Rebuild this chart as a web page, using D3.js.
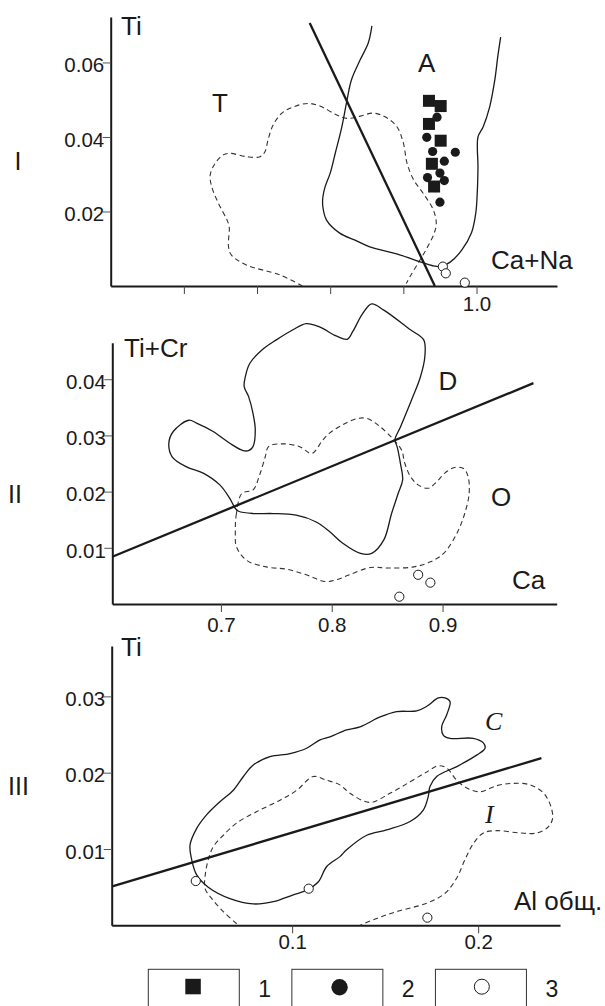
<!DOCTYPE html>
<html>
<head>
<meta charset="utf-8">
<script src="https://cdn.jsdelivr.net/npm/d3@7"></script>
<style>
  html, body { margin: 0; padding: 0; background: #fff; }
  svg { display: block; font-family: "Liberation Sans", Arial, sans-serif; }
</style>
</head>
<body>
<svg id="chart" width="605" height="1006"></svg>
<script>
// ---- panel I : Ti vs Ca+Na ----
const xTicks1 = [0.6, 0.7, 0.8, 0.9, 1.0];
const yTicks1 = [0.02, 0.04, 0.06];
const divider1 = [[0.772, 0.0706], [0.943, 0]];
const contourA = [
  [0.857, 0.0698], [0.852, 0.0652], [0.841, 0.0607], [0.829, 0.0553], [0.823, 0.0499],
  [0.816, 0.0428], [0.807, 0.0357], [0.800, 0.0303], [0.793, 0.0266], [0.790, 0.0239],
  [0.790, 0.0212], [0.795, 0.0177], [0.813, 0.0142], [0.834, 0.0123], [0.854, 0.0105],
  [0.891, 0.0086], [0.923, 0.0065], [0.939, 0.0055], [0.950, 0.0052], [0.964, 0.0064],
  [0.980, 0.0097], [0.993, 0.0142], [0.999, 0.0196], [1.001, 0.0250], [1.002, 0.0319],
  [1.002, 0.0400], [1.009, 0.0427], [1.018, 0.0481], [1.025, 0.0553], [1.029, 0.0615],
  [1.033, 0.0668]
];
const contourT = [
  [0.762, 0.0000], [0.731, 0.0030], [0.686, 0.0056], [0.665, 0.0083], [0.661, 0.0106],
  [0.662, 0.0159], [0.659, 0.0177], [0.647, 0.0223], [0.638, 0.0267], [0.636, 0.0298],
  [0.643, 0.0330], [0.654, 0.0352], [0.663, 0.0356], [0.686, 0.0347], [0.704, 0.0347],
  [0.711, 0.0361], [0.715, 0.0392], [0.722, 0.0432], [0.734, 0.0464], [0.750, 0.0481],
  [0.770, 0.0490], [0.786, 0.0483], [0.809, 0.0459], [0.823, 0.0450], [0.841, 0.0456],
  [0.859, 0.0464], [0.875, 0.0454], [0.891, 0.0428], [0.900, 0.0384], [0.905, 0.0330],
  [0.914, 0.0285], [0.927, 0.0249], [0.941, 0.0204], [0.945, 0.0168], [0.942, 0.0141],
  [0.932, 0.0101], [0.920, 0.0061], [0.909, 0.0025], [0.904, 0.0007]
];
const squares1 = [
  [0.935, 0.0497], [0.951, 0.0483], [0.935, 0.0435], [0.951, 0.0390], [0.939, 0.0328], [0.942, 0.0267]
];
const dots1 = [
  [0.946, 0.0453], [0.932, 0.0399], [0.940, 0.0361], [0.971, 0.0359], [0.956, 0.0335],
  [0.933, 0.0291], [0.950, 0.0303], [0.956, 0.0283], [0.950, 0.0225]
];
const open1 = [[0.954, 0.0052], [0.958, 0.0034], [0.984, 0.0009]];

// ---- panel II : Ti+Cr vs Ca ----
const xTicks2 = [0.7, 0.8, 0.9];
const yTicks2 = [0.01, 0.02, 0.03, 0.04];
const divider2 = [[0.602, 0.0084], [0.982, 0.0393]];
const contourD = [
  [0.671, 0.0327], [0.657, 0.0307], [0.653, 0.0286], [0.656, 0.0262], [0.669, 0.0244],
  [0.684, 0.0233], [0.699, 0.0212], [0.708, 0.0188], [0.713, 0.0170], [0.716, 0.0165],
  [0.729, 0.0161], [0.747, 0.0161], [0.768, 0.0158], [0.786, 0.0146], [0.798, 0.0129],
  [0.810, 0.0108], [0.826, 0.0090], [0.836, 0.0090], [0.847, 0.0114], [0.854, 0.0161],
  [0.860, 0.0197], [0.864, 0.0221], [0.862, 0.0250], [0.859, 0.0280], [0.857, 0.0292],
  [0.862, 0.0315], [0.872, 0.0363], [0.880, 0.0404], [0.884, 0.0440], [0.883, 0.0470],
  [0.871, 0.0488], [0.847, 0.0523], [0.836, 0.0534], [0.828, 0.0517], [0.819, 0.0485],
  [0.814, 0.0471], [0.804, 0.0477], [0.789, 0.0493], [0.777, 0.0499], [0.765, 0.0488],
  [0.750, 0.0470], [0.737, 0.0452], [0.726, 0.0428], [0.722, 0.0404], [0.721, 0.0387],
  [0.725, 0.0369], [0.729, 0.0339], [0.731, 0.0310], [0.729, 0.0280], [0.725, 0.0273],
  [0.720, 0.0273], [0.708, 0.0286], [0.693, 0.0307], [0.678, 0.0322]
];
const contourO = [
  [0.719, 0.0197], [0.714, 0.0161], [0.713, 0.0126], [0.714, 0.0102], [0.723, 0.0078],
  [0.741, 0.0066], [0.759, 0.0062], [0.777, 0.0052], [0.794, 0.0040], [0.804, 0.0043],
  [0.816, 0.0052], [0.835, 0.0065], [0.851, 0.0064], [0.874, 0.0066], [0.889, 0.0075],
  [0.901, 0.0090], [0.913, 0.0126], [0.920, 0.0161], [0.924, 0.0197], [0.923, 0.0227],
  [0.919, 0.0241], [0.911, 0.0243], [0.902, 0.0233], [0.895, 0.0218], [0.887, 0.0206],
  [0.878, 0.0212], [0.871, 0.0227], [0.866, 0.0250], [0.863, 0.0274], [0.856, 0.0292],
  [0.844, 0.0315], [0.832, 0.0330], [0.823, 0.0330], [0.810, 0.0319], [0.798, 0.0304],
  [0.792, 0.0292], [0.782, 0.0268], [0.771, 0.0280], [0.756, 0.0285], [0.743, 0.0280],
  [0.740, 0.0262], [0.735, 0.0230], [0.729, 0.0203]
];
const open2 = [[0.878, 0.0052], [0.889, 0.0038], [0.861, 0.0013]];

// ---- panel III : Ti vs Al total ----
const xTicks3 = [0.1, 0.2];
const yTicks3 = [0.01, 0.02, 0.03];
const divider3 = [[0.0033, 0.0051], [0.234, 0.0219]];
const contourC = [
  [0.0451, 0.0105], [0.0460, 0.0086], [0.0487, 0.0066], [0.0549, 0.0050], [0.0666, 0.0035],
  [0.0791, 0.0028], [0.0899, 0.0031], [0.1006, 0.0040], [0.1078, 0.0046], [0.1141, 0.0057],
  [0.1186, 0.0077], [0.1257, 0.0090], [0.1293, 0.0099], [0.1401, 0.0118], [0.1508, 0.0125],
  [0.1634, 0.0136], [0.1705, 0.0151], [0.1732, 0.0169], [0.1741, 0.0182], [0.1777, 0.0195],
  [0.1885, 0.0208], [0.1992, 0.0223], [0.2037, 0.0232], [0.2028, 0.0239], [0.1974, 0.0245],
  [0.1849, 0.0245], [0.1813, 0.0249], [0.1804, 0.0260], [0.1831, 0.0276], [0.1849, 0.0293],
  [0.1822, 0.0298], [0.1786, 0.0298], [0.1724, 0.0287], [0.1670, 0.0281], [0.1562, 0.0280],
  [0.1473, 0.0273], [0.1365, 0.0260], [0.1293, 0.0256], [0.1204, 0.0247], [0.1150, 0.0243],
  [0.1078, 0.0232], [0.0989, 0.0225], [0.0881, 0.0221], [0.0791, 0.0210], [0.0738, 0.0195],
  [0.0684, 0.0177], [0.0612, 0.0162], [0.0541, 0.0145], [0.0487, 0.0127]
];
const contourI = [
  [0.0702, 0.0002], [0.0630, 0.0018], [0.0568, 0.0035], [0.0532, 0.0048], [0.0532, 0.0064],
  [0.0549, 0.0086], [0.0576, 0.0103], [0.0630, 0.0118], [0.0702, 0.0134], [0.0810, 0.0149],
  [0.0935, 0.0164], [0.1025, 0.0177], [0.1114, 0.0195], [0.1186, 0.0190], [0.1257, 0.0184],
  [0.1311, 0.0173], [0.1419, 0.0161], [0.1526, 0.0173], [0.1634, 0.0188], [0.1724, 0.0201],
  [0.1786, 0.0209], [0.1831, 0.0206], [0.1885, 0.0190], [0.1939, 0.0180], [0.2010, 0.0175],
  [0.2100, 0.0183], [0.2189, 0.0186], [0.2279, 0.0184], [0.2360, 0.0171], [0.2401, 0.0142],
  [0.2377, 0.0129], [0.2315, 0.0121], [0.2225, 0.0121], [0.2100, 0.0124], [0.2028, 0.0121],
  [0.1974, 0.0107], [0.1929, 0.0086], [0.1885, 0.0062], [0.1822, 0.0042], [0.1724, 0.0029],
  [0.1562, 0.0018], [0.1455, 0.0009], [0.1365, 0.0000]
];
const open3 = [[0.0482, 0.0058], [0.1089, 0.0048], [0.1727, 0.0010]];

// ---- legend ----
const legendSymbols = ["square", "dot", "open"];
const legendLabels = ["1", "2", "3"];

const svg = d3.select("#chart");
const ink = "#1a1a1a";

function drawPanel(p) {
  const x = d3.scaleLinear().domain(p.xDomain).range(p.xRange);
  const y = d3.scaleLinear().domain(p.yDomain).range(p.yRange);
  const g = svg.append("g");

  // axes
  const xAxis = d3.axisBottom(x).tickValues(p.xTicks).tickSize(8).tickSizeOuter(0)
      .tickPadding(p.xPad).tickFormat(p.xFormat);
  const yAxis = d3.axisLeft(y).tickValues(p.yTicks).tickSize(8).tickSizeOuter(0)
      .tickPadding(-1.5).tickFormat(d3.format(".2f"));

  g.append("g").attr("transform", `translate(0,${p.yRange[0]})`).call(xAxis)
    .call(a => a.select(".domain").attr("stroke", ink).attr("stroke-width", 2))
    .call(a => a.selectAll(".tick line").attr("stroke", "#444").attr("stroke-width", 1))
    .call(a => a.selectAll(".tick text").attr("fill", ink)
        .style("font-family", "'Liberation Sans', Arial, sans-serif").style("font-size", "20.5px"));

  g.append("g").attr("transform", `translate(${p.xRange[0]},0)`).call(yAxis)
    .call(a => a.select(".domain").attr("stroke", ink).attr("stroke-width", 2))
    .call(a => a.selectAll(".tick line").attr("stroke", "#555").attr("stroke-width", 1))
    .call(a => a.selectAll(".tick text").attr("fill", ink).attr("dy", "0.45em")
        .style("font-family", "'Liberation Sans', Arial, sans-serif").style("font-size", "20.5px"));

  const open = d3.line().x(d => x(d[0])).y(d => y(d[1])).curve(d3.curveCatmullRom.alpha(0.5));
  const closed = d3.line().x(d => x(d[0])).y(d => y(d[1])).curve(d3.curveCatmullRomClosed.alpha(0.5));

  p.dashed.forEach(c => g.append("path")
      .attr("d", (c.closed ? closed : open)(c.data))
      .attr("fill", "none").attr("stroke", "#333").attr("stroke-width", 1.1)
      .attr("stroke-dasharray", "5,3.5"));

  p.solid.forEach(c => g.append("path")
      .attr("d", (c.closed ? closed : open)(c.data))
      .attr("fill", "none").attr("stroke", ink).attr("stroke-width", 1.3));

  g.append("path")
      .attr("d", d3.line().x(d => x(d[0])).y(d => y(d[1]))(p.divider))
      .attr("fill", "none").attr("stroke", ink).attr("stroke-width", 2.3);

  g.selectAll(".sq").data(p.squares || []).enter().append("rect")
      .attr("x", d => x(d[0]) - 6).attr("y", d => y(d[1]) - 6)
      .attr("width", 12).attr("height", 12).attr("fill", ink);

  g.selectAll(".dot").data(p.dots || []).enter().append("circle")
      .attr("cx", d => x(d[0])).attr("cy", d => y(d[1])).attr("r", 4.6).attr("fill", ink);

  g.selectAll(".open").data(p.open).enter().append("circle")
      .attr("cx", d => x(d[0])).attr("cy", d => y(d[1])).attr("r", 4.6)
      .attr("fill", "#fff").attr("stroke", ink).attr("stroke-width", 1);

  p.labels.forEach(l => g.append("text")
      .attr("x", l.x).attr("y", l.y).attr("fill", ink)
      .style("font-size", (l.size || 26) + "px")
      .style("font-family", l.serif ? "'Liberation Serif', 'Times New Roman', serif" : null)
      .style("font-style", l.serif ? "italic" : null)
      .text(l.t));
}

drawPanel({
  xDomain: [0.5, 1.11], xRange: [110.7, 557],
  yDomain: [0, 0.0722], yRange: [286, 17],
  xTicks: xTicks1, yTicks: yTicks1, xPad: 2,
  xFormat: d => (d === 1.0 ? "1.0" : ""),
  dashed: [{ data: contourT, closed: false }],
  solid: [{ data: contourA, closed: false }],
  divider: divider1, squares: squares1, dots: dots1, open: open1,
  labels: [
    { t: "Ti", x: 121, y: 35 }, { t: "T", x: 212, y: 112 }, { t: "A", x: 418, y: 72 },
    { t: "Ca+Na", x: 491, y: 269 }, { t: "I", x: 14.5, y: 170, size: 25 }
  ]
});

drawPanel({
  xDomain: [0.602, 1.003], xRange: [112.3, 556.7],
  yDomain: [0, 0.0465], yRange: [604, 342.7],
  xTicks: xTicks2, yTicks: yTicks2, xPad: 5.5,
  xFormat: d3.format(".1f"),
  dashed: [{ data: contourO, closed: true }],
  solid: [{ data: contourD, closed: true }],
  divider: divider2, open: open2,
  labels: [
    { t: "Ti+Cr", x: 124, y: 357 }, { t: "D", x: 438.5, y: 390 }, { t: "O", x: 491, y: 506 },
    { t: "Ca", x: 512, y: 589 }, { t: "II", x: 8, y: 503, size: 25 }
  ]
});

drawPanel({
  xDomain: [0.003, 0.244], xRange: [111.7, 560],
  yDomain: [0, 0.0366], yRange: [925.3, 646],
  xTicks: xTicks3, yTicks: yTicks3, xPad: 1,
  xFormat: d3.format(".1f"),
  dashed: [{ data: contourI, closed: false }],
  solid: [{ data: contourC, closed: true }],
  divider: divider3, open: open3,
  labels: [
    { t: "Ti", x: 121, y: 656 }, { t: "C", x: 485, y: 730, serif: true },
    { t: "I", x: 485, y: 823, serif: true },
    { t: "Al общ.", x: 514, y: 910, size: 26 }, { t: "III", x: 8, y: 795, size: 25 }
  ]
});

// legend
const lx = d3.scaleBand().domain(legendLabels).range([148.3, 579]).paddingInner(0);
const leg = svg.append("g").selectAll("g").data(legendLabels).enter().append("g")
    .attr("transform", d => `translate(${lx(d)},969.3)`);
leg.append("rect").attr("x", 0).attr("y", 0).attr("width", 91).attr("height", 60)
    .attr("fill", "none").attr("stroke", "#333").attr("stroke-width", 1);
leg.each(function(d, i) {
  const s = d3.select(this), sym = legendSymbols[i];
  if (sym === "square") s.append("rect").attr("x", 37).attr("y", 9.5).attr("width", 15.5).attr("height", 15.5).attr("fill", ink);
  if (sym === "dot") s.append("circle").attr("cx", 47.7).attr("cy", 18).attr("r", 8.2).attr("fill", ink);
  if (sym === "open") s.append("circle").attr("cx", 46.4).attr("cy", 17.4).attr("r", 7.5)
      .attr("fill", "#fff").attr("stroke", ink).attr("stroke-width", 1);
});
leg.append("text").attr("x", 110).attr("y", 28).attr("fill", ink)
    .style("font-size", "23px").text(d => d);
</script>
</body>
</html>
